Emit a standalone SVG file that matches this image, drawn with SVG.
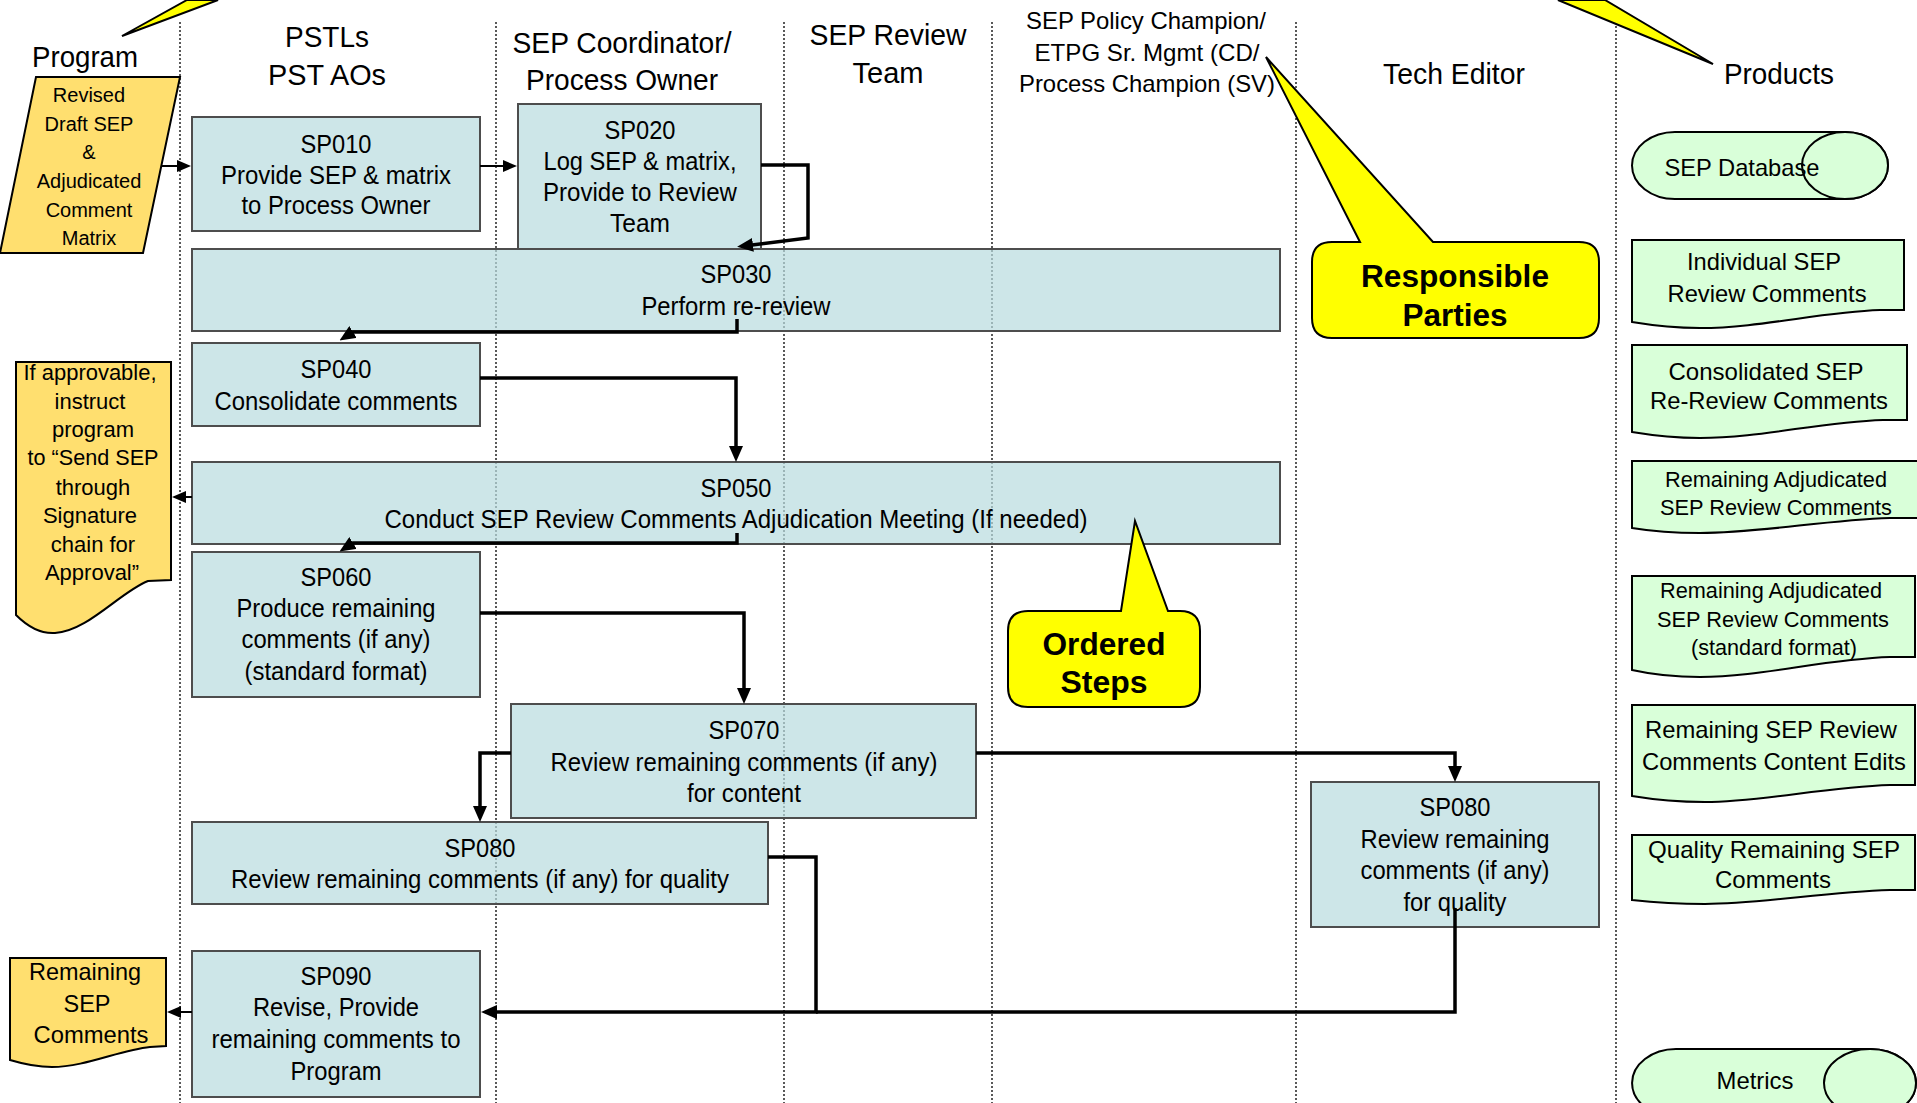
<svg xmlns="http://www.w3.org/2000/svg" width="1917" height="1103" viewBox="0 0 1917 1103">
<style>
.lane{stroke:#000;stroke-width:1.3;stroke-dasharray:2 2;fill:none}
.box{fill:#B8DBDE;fill-opacity:0.7;stroke:#4d4d4d;stroke-width:2}
.t{font-family:"Liberation Sans",Arial,sans-serif;fill:#000;text-anchor:middle}
.hdr{font-size:29px}
.hs{font-size:24px}
.b{font-size:26px}
.n{font-size:22px}
.s{font-size:20px}
.bold{font-size:31px;font-weight:bold}
.docy{fill:#FFDF6F;stroke:#000;stroke-width:2}
.docg{fill:#D9FFD9;stroke:#000;stroke-width:2}
.call{fill:#FFFF00;stroke:#000;stroke-width:2}
.conn{fill:none;stroke:#000;stroke-width:3.5}
.thin{fill:none;stroke:#000;stroke-width:2}
</style>
<defs>
<marker id="ah" viewBox="0 0 16 14" refX="1" refY="7" markerWidth="16" markerHeight="14" markerUnits="userSpaceOnUse" orient="auto"><path d="M0,0 L16,7 L0,14 Z" fill="#000"/></marker>
<marker id="ahs" viewBox="0 0 14 12" refX="1" refY="6" markerWidth="14" markerHeight="12" markerUnits="userSpaceOnUse" orient="auto"><path d="M0,0 L14,6 L0,12 Z" fill="#000"/></marker>
</defs>
<rect x="0" y="0" width="1917" height="1103" fill="#fff"/>

<g id="lanes">
<line class="lane" x1="180" y1="22" x2="180" y2="1103"/>
<line class="lane" x1="496" y1="22" x2="496" y2="1103"/>
<line class="lane" x1="784" y1="22" x2="784" y2="1103"/>
<line class="lane" x1="992" y1="22" x2="992" y2="1103"/>
<line class="lane" x1="1296" y1="22" x2="1296" y2="1103"/>
<line class="lane" x1="1616" y1="22" x2="1616" y2="1103"/>
</g>

<g id="headers">
<text class="t hdr" x="85" y="67" textLength="106" lengthAdjust="spacingAndGlyphs">Program</text>
<text class="t hdr" x="327" y="47" textLength="84" lengthAdjust="spacingAndGlyphs">PSTLs</text>
<text class="t hdr" x="327" y="85" textLength="118" lengthAdjust="spacingAndGlyphs">PST AOs</text>
<text class="t hdr" x="622" y="53" textLength="219" lengthAdjust="spacingAndGlyphs">SEP Coordinator/</text>
<text class="t hdr" x="622" y="90" textLength="192" lengthAdjust="spacingAndGlyphs">Process Owner</text>
<text class="t hdr" x="888" y="45" textLength="157" lengthAdjust="spacingAndGlyphs">SEP Review</text>
<text class="t hdr" x="888" y="83" textLength="71" lengthAdjust="spacingAndGlyphs">Team</text>
<text class="t hs" x="1146" y="29" textLength="240" lengthAdjust="spacingAndGlyphs">SEP Policy Champion/</text>
<text class="t hs" x="1147" y="61" textLength="225" lengthAdjust="spacingAndGlyphs">ETPG Sr. Mgmt (CD/</text>
<text class="t hs" x="1147" y="92" textLength="256" lengthAdjust="spacingAndGlyphs">Process Champion (SV)</text>
<text class="t hdr" x="1454" y="84" textLength="142" lengthAdjust="spacingAndGlyphs">Tech Editor</text>
<text class="t hdr" x="1779" y="84" textLength="110" lengthAdjust="spacingAndGlyphs">Products</text>
</g>

<g id="callout-top-left">
<path class="call" d="M187,0 L122,36 L218,0 Z"/>
</g>
<g id="callout-top-right">
<path class="call" d="M1558,0 L1713,64 L1605,0 Z"/>
</g>

<g id="program-input">
<path class="docy" d="M36,77 H180 L143,253 H0 Z"/>
<text class="t s" x="89" y="102">Revised</text>
<text class="t s" x="89" y="131">Draft SEP</text>
<text class="t s" x="89" y="159">&amp;</text>
<text class="t s" x="89" y="188">Adjudicated</text>
<text class="t s" x="89" y="217">Comment</text>
<text class="t s" x="89" y="245">Matrix</text>
</g>

<g id="SP010">
<rect class="box" x="192" y="117" width="288" height="114"/>
<text class="t b" x="336" y="153" textLength="71" lengthAdjust="spacingAndGlyphs">SP010</text>
<text class="t b" x="336" y="184" textLength="230" lengthAdjust="spacingAndGlyphs">Provide SEP &amp; matrix</text>
<text class="t b" x="336" y="214" textLength="189" lengthAdjust="spacingAndGlyphs">to Process Owner</text>
</g>

<g id="SP020">
<rect class="box" x="518" y="104" width="243" height="145"/>
<text class="t b" x="640" y="139" textLength="71" lengthAdjust="spacingAndGlyphs">SP020</text>
<text class="t b" x="640" y="170" textLength="193" lengthAdjust="spacingAndGlyphs">Log SEP &amp; matrix,</text>
<text class="t b" x="640" y="201" textLength="194" lengthAdjust="spacingAndGlyphs">Provide to Review</text>
<text class="t b" x="640" y="232" textLength="60" lengthAdjust="spacingAndGlyphs">Team</text>
</g>

<g id="SP030">
<rect class="box" x="192" y="249" width="1088" height="82"/>
<text class="t b" x="736" y="283" textLength="71" lengthAdjust="spacingAndGlyphs">SP030</text>
<text class="t b" x="736" y="315" textLength="189" lengthAdjust="spacingAndGlyphs">Perform re-review</text>
</g>

<g id="SP040">
<rect class="box" x="192" y="343" width="288" height="83"/>
<text class="t b" x="336" y="378" textLength="71" lengthAdjust="spacingAndGlyphs">SP040</text>
<text class="t b" x="336" y="410" textLength="243" lengthAdjust="spacingAndGlyphs">Consolidate comments</text>
</g>

<g id="SP050">
<rect class="box" x="192" y="462" width="1088" height="82"/>
<text class="t b" x="736" y="497" textLength="71" lengthAdjust="spacingAndGlyphs">SP050</text>
<text class="t b" x="736" y="528" textLength="703" lengthAdjust="spacingAndGlyphs">Conduct SEP Review Comments Adjudication Meeting (If needed)</text>
</g>

<g id="approval-note">
<path class="docy" d="M16,362 H171 V580 L148,581 C120,592 88,631 55,633 C40,634 26,625 16,615 Z"/>
<text class="t n" x="90" y="380" textLength="133" lengthAdjust="spacingAndGlyphs">If approvable,</text>
<text class="t n" x="90" y="409">instruct</text>
<text class="t n" x="93" y="437">program</text>
<text class="t n" x="93" y="465" textLength="131" lengthAdjust="spacingAndGlyphs">to “Send SEP</text>
<text class="t n" x="93" y="495">through</text>
<text class="t n" x="90" y="523">Signature</text>
<text class="t n" x="93" y="552">chain for</text>
<text class="t n" x="92" y="580">Approval”</text>
</g>

<g id="SP060">
<rect class="box" x="192" y="552" width="288" height="145"/>
<text class="t b" x="336" y="586" textLength="71" lengthAdjust="spacingAndGlyphs">SP060</text>
<text class="t b" x="336" y="617" textLength="199" lengthAdjust="spacingAndGlyphs">Produce remaining</text>
<text class="t b" x="336" y="648" textLength="189" lengthAdjust="spacingAndGlyphs">comments (if any)</text>
<text class="t b" x="336" y="680" textLength="183" lengthAdjust="spacingAndGlyphs">(standard format)</text>
</g>

<g id="SP070">
<rect class="box" x="511" y="704" width="465" height="114"/>
<text class="t b" x="744" y="739" textLength="71" lengthAdjust="spacingAndGlyphs">SP070</text>
<text class="t b" x="744" y="771" textLength="387" lengthAdjust="spacingAndGlyphs">Review remaining comments (if any)</text>
<text class="t b" x="744" y="802" textLength="114" lengthAdjust="spacingAndGlyphs">for content</text>
</g>

<g id="SP080-quality">
<rect class="box" x="192" y="822" width="576" height="82"/>
<text class="t b" x="480" y="857" textLength="71" lengthAdjust="spacingAndGlyphs">SP080</text>
<text class="t b" x="480" y="888" textLength="498" lengthAdjust="spacingAndGlyphs">Review remaining comments (if any) for quality</text>
</g>

<g id="SP080-tech">
<rect class="box" x="1311" y="782" width="288" height="145"/>
<text class="t b" x="1455" y="816" textLength="71" lengthAdjust="spacingAndGlyphs">SP080</text>
<text class="t b" x="1455" y="848" textLength="189" lengthAdjust="spacingAndGlyphs">Review remaining</text>
<text class="t b" x="1455" y="879" textLength="189" lengthAdjust="spacingAndGlyphs">comments (if any)</text>
<text class="t b" x="1455" y="911" textLength="103" lengthAdjust="spacingAndGlyphs">for quality</text>
</g>

<g id="SP090">
<rect class="box" x="192" y="951" width="288" height="146"/>
<text class="t b" x="336" y="985" textLength="71" lengthAdjust="spacingAndGlyphs">SP090</text>
<text class="t b" x="336" y="1016" textLength="166" lengthAdjust="spacingAndGlyphs">Revise, Provide</text>
<text class="t b" x="336" y="1048" textLength="249" lengthAdjust="spacingAndGlyphs">remaining comments to</text>
<text class="t b" x="336" y="1080" textLength="91" lengthAdjust="spacingAndGlyphs">Program</text>
</g>

<g id="remaining-sep-comments">
<path class="docy" d="M10,958 H166 V1046 L150,1047 C120,1050 85,1067 52,1067 C35,1067 20,1063 10,1060 Z"/>
<text class="t hs" x="85" y="980" textLength="112" lengthAdjust="spacingAndGlyphs">Remaining</text>
<text class="t hs" x="87" y="1012" textLength="47" lengthAdjust="spacingAndGlyphs">SEP</text>
<text class="t hs" x="91" y="1043" textLength="115" lengthAdjust="spacingAndGlyphs">Comments</text>
</g>

<g id="responsible-parties">
<path class="call" d="M1332,242 H1360 L1266,57 L1433,242 H1579 Q1599,242 1599,262 V318 Q1599,338 1579,338 H1332 Q1312,338 1312,318 V262 Q1312,242 1332,242 Z"/>
<text class="t bold" x="1455" y="287" textLength="188" lengthAdjust="spacingAndGlyphs">Responsible</text>
<text class="t bold" x="1455" y="326" textLength="105" lengthAdjust="spacingAndGlyphs">Parties</text>
</g>

<g id="ordered-steps">
<path class="call" d="M1028,611 H1121 L1135,521 L1168,611 H1180 Q1200,611 1200,631 V687 Q1200,707 1180,707 H1028 Q1008,707 1008,687 V631 Q1008,611 1028,611 Z"/>
<text class="t bold" x="1104" y="655" textLength="123" lengthAdjust="spacingAndGlyphs">Ordered</text>
<text class="t bold" x="1104" y="693" textLength="87" lengthAdjust="spacingAndGlyphs">Steps</text>
</g>

<g id="sep-database">
<path class="docg" d="M1675,132 H1845 A43,33.5 0 0 1 1845,199 H1675 A43,33.5 0 0 1 1675,132 Z"/>
<ellipse class="docg" cx="1845" cy="165.5" rx="43" ry="33.5" fill="none"/>
<text class="t hs" x="1742" y="176" textLength="155" lengthAdjust="spacingAndGlyphs">SEP Database</text>
</g>

<g id="individual-comments">
<path class="docg" d="M1632,240 H1904 V310 L1880,310 C1820,312 1760,328 1700,328 C1670,328 1650,325 1632,322 Z"/>
<text class="t hs" x="1764" y="270" textLength="154" lengthAdjust="spacingAndGlyphs">Individual SEP</text>
<text class="t hs" x="1767" y="302" textLength="199" lengthAdjust="spacingAndGlyphs">Review Comments</text>
</g>

<g id="consolidated-comments">
<path class="docg" d="M1632,345 H1907 V420 L1883,420 C1820,422 1760,438 1700,438 C1670,438 1650,435 1632,432 Z"/>
<text class="t hs" x="1766" y="380" textLength="195" lengthAdjust="spacingAndGlyphs">Consolidated SEP</text>
<text class="t hs" x="1769" y="409" textLength="238" lengthAdjust="spacingAndGlyphs">Re-Review Comments</text>
</g>

<g id="remaining-adjudicated">
<path class="docg" d="M1632,461 H1920 V518 L1890,518 C1825,520 1760,533 1700,533 C1670,533 1650,531 1632,528 Z"/>
<text class="t n" x="1776" y="487" textLength="222" lengthAdjust="spacingAndGlyphs">Remaining Adjudicated</text>
<text class="t n" x="1776" y="515" textLength="232" lengthAdjust="spacingAndGlyphs">SEP Review Comments</text>
</g>

<g id="remaining-adjudicated-std">
<path class="docg" d="M1632,576 H1915 V657 L1890,657 C1825,659 1760,677 1700,677 C1670,677 1650,674 1632,670 Z"/>
<text class="t n" x="1771" y="598" textLength="222" lengthAdjust="spacingAndGlyphs">Remaining Adjudicated</text>
<text class="t n" x="1773" y="627" textLength="232" lengthAdjust="spacingAndGlyphs">SEP Review Comments</text>
<text class="t n" x="1774" y="655" textLength="166" lengthAdjust="spacingAndGlyphs">(standard format)</text>
</g>

<g id="content-edits">
<path class="docg" d="M1632,705 H1915 V785 L1890,785 C1825,787 1760,802 1705,802 C1672,802 1650,799 1632,796 Z"/>
<text class="t hs" x="1771" y="738" textLength="252" lengthAdjust="spacingAndGlyphs">Remaining SEP Review</text>
<text class="t hs" x="1774" y="770" textLength="264" lengthAdjust="spacingAndGlyphs">Comments Content Edits</text>
</g>

<g id="quality-comments">
<path class="docg" d="M1632,835 H1915 V890 L1890,890 C1825,892 1760,904 1705,904 C1672,904 1650,902 1632,900 Z"/>
<text class="t hs" x="1774" y="858" textLength="252" lengthAdjust="spacingAndGlyphs">Quality Remaining SEP</text>
<text class="t hs" x="1773" y="888" textLength="116" lengthAdjust="spacingAndGlyphs">Comments</text>
</g>

<g id="metrics">
<path class="docg" d="M1676,1049 H1870 A46,34 0 0 1 1870,1117 H1676 A44,34 0 0 1 1676,1049 Z"/>
<ellipse class="docg" cx="1870" cy="1083" rx="46" ry="34"/>
<text class="t hs" x="1755" y="1089" textLength="77" lengthAdjust="spacingAndGlyphs">Metrics</text>
</g>

<g id="connectors">
<path class="thin" d="M162,166 H178" marker-end="url(#ahs)"/>
<path class="thin" d="M480,166 H504" marker-end="url(#ahs)"/>
<path class="conn" d="M761,165 H808 V238 L752,245" marker-end="url(#ah)"/>
<path class="conn" d="M737,319 V332 H353 L352.2,332.5" marker-end="url(#ah)"/>
<path class="conn" d="M480,378 H736 V447" marker-end="url(#ah)"/>
<path class="thin" d="M192,497 H185" marker-end="url(#ahs)"/>
<path class="conn" d="M737,533 V543 H353 L352.2,543.5" marker-end="url(#ah)"/>
<path class="conn" d="M480,613 H744 V689" marker-end="url(#ah)"/>
<path class="conn" d="M511,753 H480 V807" marker-end="url(#ah)"/>
<path class="conn" d="M976,753 H1455 V767" marker-end="url(#ah)"/>
<path class="conn" d="M768,857 H816 V1012 H496" marker-end="url(#ah)"/>
<path class="conn" d="M1455,908 V1012 H816"/>
<path class="thin" d="M192,1012 H180" marker-end="url(#ahs)"/>
</g>
</svg>
